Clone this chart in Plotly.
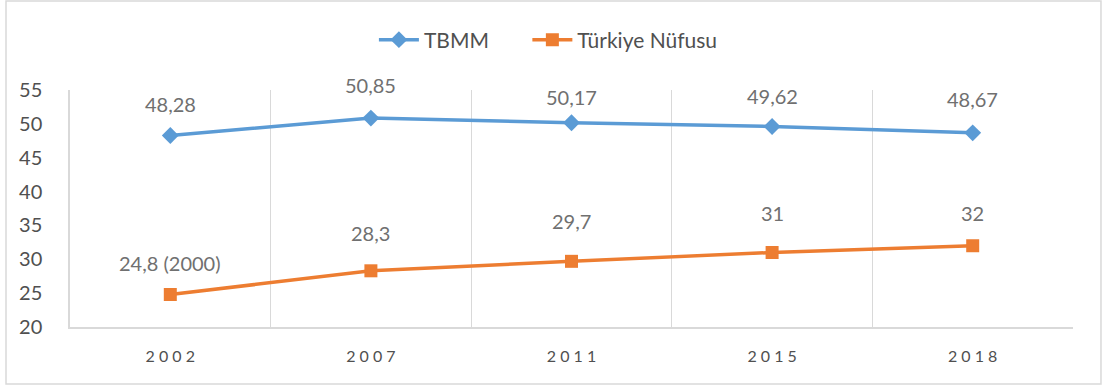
import plotly.graph_objects as go

# Seçim yılları ve oranlar
years = ["2002", "2007", "2011", "2015", "2018"]
tbmm = [48.28, 50.85, 50.17, 49.62, 48.67]
nufus = [24.8, 28.3, 29.7, 31, 32]
nufus_notes = ["(2000)", "", "", "", ""]

# vertical offsets (px) of the value labels above each marker
tbmm_label_shift = [32, 33, 26, 30, 34]
nufus_label_shift = [32, 38, 40, 40, 33]

BLUE = "#5b9bd5"
ORANGE = "#ed7d31"
GRID = "#d9d9d9"
TEXT = "#505050"
LABEL = "#707070"
FONT = "Lato, 'Open Sans', sans-serif"


def fmt(v):
    s = f"{v:.2f}".rstrip("0").rstrip(".")
    return s.replace(".", ",")


fig = go.Figure()
fig.add_trace(go.Scatter(
    x=years, y=tbmm, name="TBMM", mode="lines+markers", legend="legend",
    line=dict(color=BLUE, width=3.5),
    marker=dict(symbol="diamond", size=13, color=BLUE),
))
fig.add_trace(go.Scatter(
    x=years, y=nufus, name="Türkiye Nüfusu", mode="lines+markers", legend="legend2",
    line=dict(color=ORANGE, width=3.5),
    marker=dict(symbol="square", size=13, color=ORANGE),
))

# value labels, placed by category index
annotations = []
for i, (v, sh) in enumerate(zip(tbmm, tbmm_label_shift)):
    annotations.append(dict(x=i, y=v, xref="x", yref="y", text=fmt(v), showarrow=False,
                            yshift=sh, font=dict(size=20, color=LABEL, family=FONT)))
for i, (v, note, sh) in enumerate(zip(nufus, nufus_notes, nufus_label_shift)):
    label = fmt(v) + (" " + note if note else "")
    annotations.append(dict(x=i, y=v, xref="x", yref="y", text=label, showarrow=False,
                            yshift=sh, font=dict(size=20, color=LABEL, family=FONT)))

legend_style = dict(orientation="h", xanchor="left", y=1.211, yanchor="middle",
                    font=dict(size=21, color=TEXT), itemwidth=40,
                    bgcolor="rgba(0,0,0,0)")

fig.update_layout(
    width=1103, height=387,
    margin=dict(l=70, r=30, t=90, b=60),
    paper_bgcolor="white", plot_bgcolor="white",
    font=dict(family=FONT, color=TEXT),
    showlegend=True,
    legend=dict(x=0.303, **legend_style),
    legend2=dict(x=0.456, **legend_style),
    annotations=annotations,
    shapes=[dict(type="rect", xref="paper", yref="paper",
                 x0=-0.0638, x1=1.0279, y0=-0.2405, y1=1.3755,
                 line=dict(color=GRID, width=1.5), layer="below")],
)

fig.update_xaxes(
    type="category", tickmode="array", tickvals=years,
    ticktext=[" ".join(y) for y in years],
    tickson="boundaries", ticks="", showgrid=True, gridcolor=GRID, gridwidth=1,
    showline=True, linecolor=GRID, linewidth=1.5, mirror=False,
    tickfont=dict(size=16, color=TEXT), range=[-0.5, 4.5], ticklabelstandoff=14,
)
fig.update_yaxes(
    range=[20, 55], dtick=5, showgrid=False, zeroline=False,
    showline=True, linecolor=GRID, linewidth=1.5,
    tickfont=dict(size=20, color=TEXT), ticks="", ticklabelstandoff=22,
)

fig.write_html("out.html")
